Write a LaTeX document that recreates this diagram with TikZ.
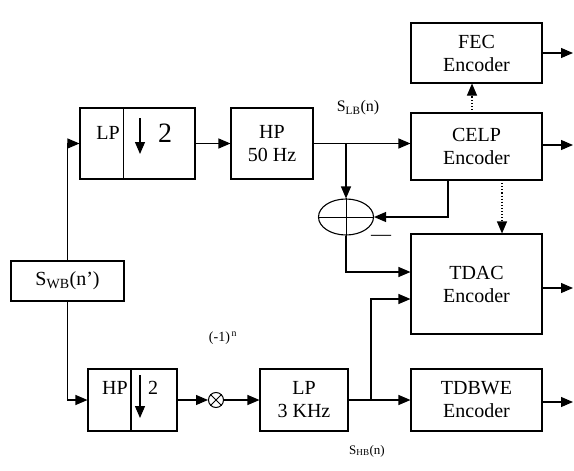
\documentclass[tikz,border=0pt]{standalone}
\usepackage{fontspec}
\setmainfont{Liberation Serif}
\usetikzlibrary{arrows.meta,shapes.geometric,calc}
\begin{document}
\begin{tikzpicture}[x=1pt,y=-1pt,
  box/.style={draw,line width=1.1pt,inner sep=0pt,align=center,font=\fontsize{20}{23}\selectfont},
  txt/.style={inner sep=0pt,font=\fontsize{20}{23}\selectfont},
  lbl/.style={inner sep=0pt,font=\fontsize{16}{18}\selectfont},
  arr/.style={-{Triangle[length=12pt,width=10pt]},line width=1.1pt},
  dotarr/.style={-{Triangle[length=12pt,width=10pt]},line width=1.1pt,dotted},
  ln/.style={line width=1.1pt}]
\useasboundingbox (0,0) rectangle (574,471);
\fill[white] (0,0) rectangle (574,471);
% boxes
\node[box,minimum width=115,minimum height=71] (lp) at (137.5,143.5) {};
\node[box,minimum width=82,minimum height=71] (hp50) at (272,143.5) {HP\\50 Hz};
\node[box,minimum width=131,minimum height=60] (fec) at (476.5,53) {FEC\\Encoder};
\node[box,minimum width=131,minimum height=67] (celp) at (476.5,146.5) {CELP\\Encoder};
\node[box,minimum width=131,minimum height=100] (tdac) at (476.5,284) {TDAC\\Encoder};
\node[box,minimum width=131,minimum height=62] (tdbwe) at (476.5,400) {TDBWE\\Encoder};
\node[box,minimum width=88,minimum height=62] (lp3) at (304,400) {LP\\3 KHz};
\node[box,minimum width=89,minimum height=62] (hpd) at (132.5,400) {};
\node[box,minimum width=113,minimum height=40] (swb) at (67.5,281) {S\textsubscript{WB}(n’)};
\node[draw,ellipse,line width=1.1pt,minimum width=55,minimum height=36,inner sep=0pt] (sum) at (346,217) {};
\node[draw,circle,line width=1pt,minimum size=15,inner sep=0pt] (mul) at (216,400) {};
% inner dividers and contents
\draw[line width=0.8pt] (123,108) -- (123,179);
\node[txt] (lptxt) at (108,133) {LP};
\draw[arr] (140,118) -- (140,154);
\node[inner sep=0pt,font=\fontsize{28}{30}\selectfont] (two1) at (165,133) {2};
\draw[line width=1.1pt] (131,369) -- (131,431);
\node[txt] (hptxt) at (115,388) {HP};
\draw[arr] (140,375) -- (140,418);
\node[txt] (two2) at (153,388) {2};
% sum cross
\draw[line width=1pt] (sum.north) -- (sum.south);
\draw[line width=1pt] (sum.west) -- (sum.east);
% otimes cross
\draw[line width=0.9pt] (mul.north west) -- (mul.south east);
\draw[line width=0.9pt] (mul.north east) -- (mul.south west);
% connectors
\draw[arr] (swb.north) |- (lp.west);
\draw[arr] (swb.south) |- (hpd.west);
\draw[arr] (lp.east) -- (hp50.west);
\draw[arr] (hp50.east) -- (hp50.east -| celp.west);
\coordinate (b1) at (sum.north |- hp50.east);
\draw[arr] (b1) -- (sum.north);
\coordinate (fb) at (448,180);
\draw[arr] (fb) |- (sum.east);
\draw[arr] (sum.south) |- ([yshift=12pt]tdac.west);
\draw[arr] (hpd.east) -- (mul.west);
\draw[arr] (mul.east) -- (lp3.west);
\draw[arr] (lp3.east) -- (tdbwe.west);
\coordinate (b2) at (371,400);
\draw[arr] (b2) |- ([yshift=-15pt]tdac.west);
\coordinate (d1) at (472,113);
\coordinate (d2) at (502,180);
\draw[dotarr] (d1) -- (d1 |- fec.south);
\draw[dotarr] (d2) -- (d2 |- tdac.north);
% outputs
\coordinate (o1) at (573,53);
\coordinate (o2) at (573,145);
\coordinate (o3) at (573,288);
\coordinate (o4) at (573,402);
\draw[arr] (fec.east) -- (o1);
\draw[arr] (celp.east |- o2) -- (o2);
\draw[arr] (tdac.east |- o3) -- (o3);
\draw[arr] (tdbwe.east |- o4) -- (o4);
% labels
\node[lbl] (slb) at (358,108) {S\textsubscript{LB}(n)};
\node[inner sep=0pt,font=\fontsize{13}{15}\selectfont] (shb) at (367,451) {S\textsubscript{HB}(n)};
\node[inner sep=0pt,font=\fontsize{14}{16}\selectfont] (m1) at (223,338) {(-1)\textsuperscript{\,n}};
\node[txt] (minus) at (381,238) {—};
\end{tikzpicture}
\end{document}
